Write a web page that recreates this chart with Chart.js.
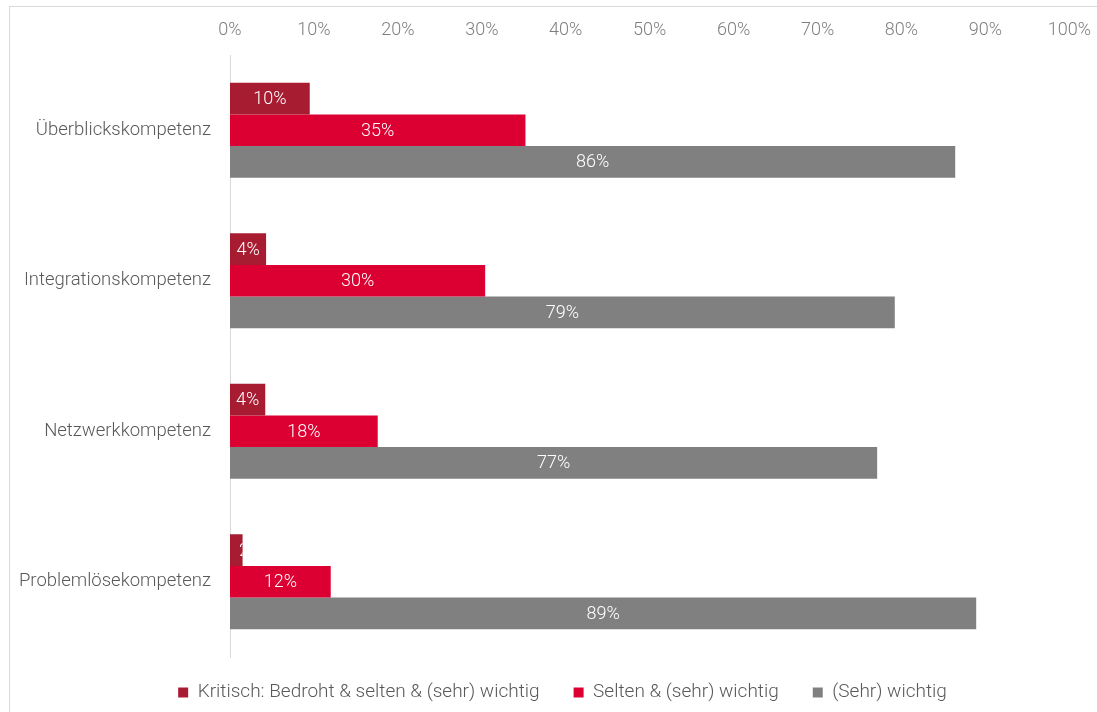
<!DOCTYPE html>
<html>
<head>
<meta charset="utf-8">
<script src="https://cdn.jsdelivr.net/npm/chart.js@4"></script>
<style>
  html, body { margin: 0; padding: 0; background: #fff; }
  #wrap { position: relative; width: 1097px; height: 712px; }
</style>
</head>
<body>
<div id="wrap"><canvas id="chart"></canvas></div>
<script>
// data
var categories = ['Überblickskompetenz', 'Integrationskompetenz', 'Netzwerkkompetenz', 'Problemlösekompetenz'];
var kritisch = [9.5, 4.3, 4.2, 1.5];
var selten = [35.2, 30.4, 17.6, 12.0];
var wichtig = [86.4, 79.2, 77.1, 88.9];
var seriesNames = ['Kritisch: Bedroht & selten & (sehr) wichtig', 'Selten & (sehr) wichtig', '(Sehr) wichtig'];
var seriesColors = ['#a81c32', '#dc0032', '#808080'];
var xTicks = [0, 10, 20, 30, 40, 50, 60, 70, 80, 90, 100];

var FONT = 'Roboto, "Liberation Sans", sans-serif';

// light grey frame around the chart (right and bottom sides are cut off)
var framePlugin = {
    id: 'frame',
    afterLayout: function (chart) {
        // legend sits a bit right of the canvas centre in the original
        if (chart.legend) {
            chart.legend.left += 19;
            chart.legend.right += 19;
            chart.legend.top -= 8;
            chart.legend.bottom -= 8;
        }
    },
    beforeDraw: function (chart) {
        var ctx = chart.ctx;
        ctx.save();
        ctx.strokeStyle = '#d9d9d9';
        ctx.lineWidth = 1;
        ctx.strokeRect(9.5, 6.5, 1200, 800);
        ctx.restore();
    }
};

// value labels inside the bars, clipped to the bar
var labelPlugin = {
    id: 'barLabels',
    afterDatasetsDraw: function (chart) {
        var ctx = chart.ctx;
        chart.data.datasets.forEach(function (ds, i) {
            var meta = chart.getDatasetMeta(i);
            meta.data.forEach(function (bar, j) {
                var left = Math.min(bar.base, bar.x), right = Math.max(bar.base, bar.x);
                var top = bar.y - bar.height / 2;
                var txt = Math.round(ds.data[j]) + '%';
                ctx.save();
                ctx.beginPath();
                ctx.rect(left, top, right - left, bar.height);
                ctx.clip();
                ctx.fillStyle = '#ffffff';
                ctx.font = '300 18px ' + FONT;
                ctx.textBaseline = 'middle';
                if (ctx.measureText(txt).width > right - left) {
                    ctx.textAlign = 'left';
                    ctx.fillText(txt, left + 9, bar.y + 1);
                } else {
                    ctx.textAlign = 'center';
                    ctx.fillText(txt, (left + right) / 2, bar.y + 1);
                }
                ctx.restore();
            });
        });
    }
};

var datasets = [kritisch, selten, wichtig].map(function (vals, i) {
    return {
        label: seriesNames[i],
        data: vals,
        backgroundColor: seriesColors[i],
        borderWidth: 0,
        barPercentage: 1,
        categoryPercentage: 0.63
    };
});

new Chart(document.getElementById('chart'), {
    type: 'bar',
    data: { labels: categories, datasets: datasets },
    plugins: [framePlugin, labelPlugin],
    options: {
        indexAxis: 'y',
        responsive: true,
        maintainAspectRatio: false,
        animation: false,
        layout: { padding: { left: 10, right: 20, top: 10, bottom: -8 } },
        scales: {
            x: {
                position: 'top',
                min: 0,
                max: 100,
                afterBuildTicks: function (scale) {
                    scale.ticks = xTicks.map(function (v) { return { value: v }; });
                },
                afterFit: function (scale) { scale.height = 45; },
                grid: { display: false },
                border: { display: false },
                ticks: {
                    padding: 6,
                    color: '#7f7f7f',
                    font: { family: FONT, size: 18, weight: 300 },
                    callback: function (v) { return v + '%'; }
                }
            },
            y: {
                afterFit: function (scale) { scale.width = 220; },
                grid: { display: false },
                border: { display: true, color: '#d9d9d9', width: 1 },
                ticks: {
                    padding: 11,
                    color: '#595959',
                    font: { family: FONT, size: 18.5, weight: 300 }
                }
            }
        },
        plugins: {
            legend: {
                position: 'bottom',
                labels: {
                    boxWidth: 10,
                    boxHeight: 10,
                    padding: 34,
                    color: '#595959',
                    font: { family: FONT, size: 19, weight: 300 }
                }
            },
            tooltip: { enabled: false }
        }
    }
});
</script>
</body>
</html>
